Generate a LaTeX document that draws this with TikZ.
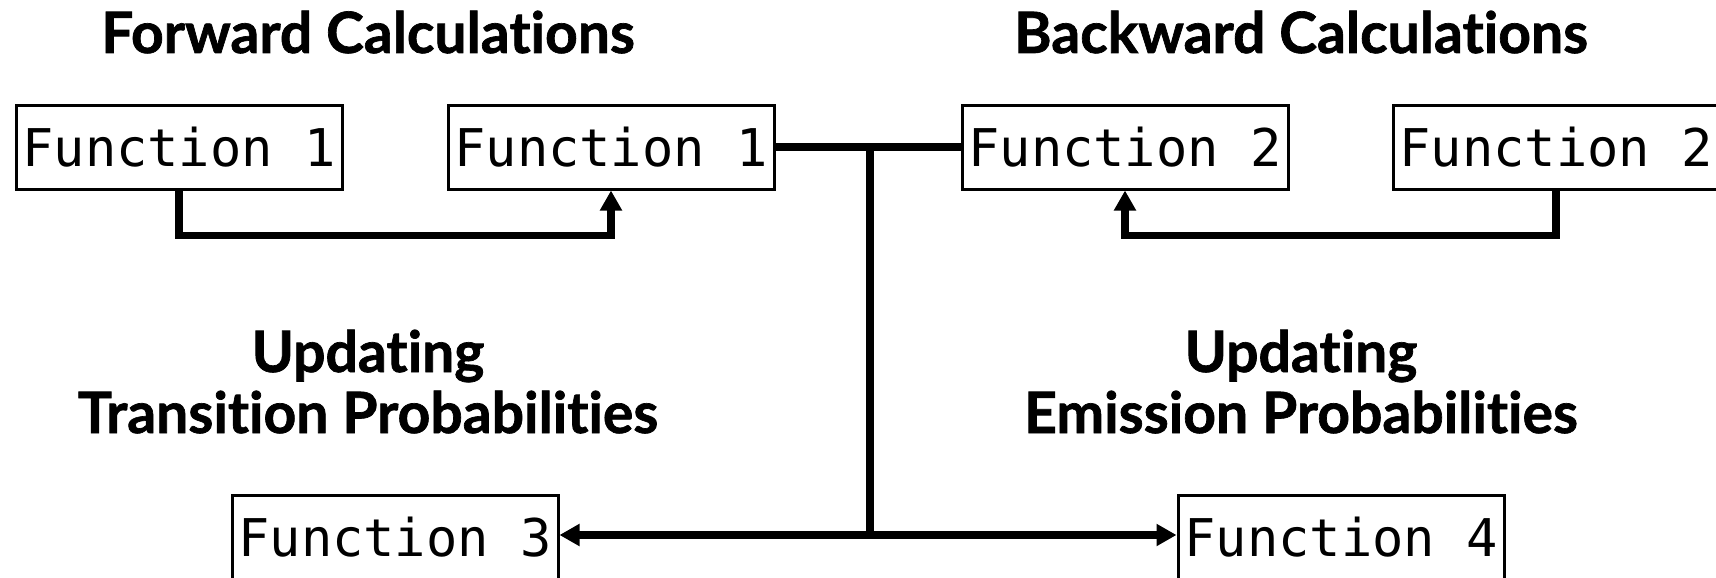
\documentclass[tikz,border=0pt]{standalone}
\usepackage{fontspec}
\setmainfont{Lato}[Ligatures={NoCommon}, BoldFeatures={FakeBold=1.2}]
\setmonofont{DejaVu Sans Mono}
\usetikzlibrary{arrows.meta}
\begin{document}
\begin{tikzpicture}[x=1pt,y=-1pt,
  fbox/.style={draw, line width=3pt, minimum width=326pt, minimum height=84pt, inner sep=0pt,
    font=\fontsize{52}{56}\selectfont\ttfamily},
  conn/.style={line width=7.5pt},
  tip/.style={-{Triangle[length=20pt,width=21pt]}},
  head/.style={anchor=base, font=\fontsize{57}{60}\selectfont\bfseries}
]
\useasboundingbox (0,0) rectangle (1716,578);
\node[head] (t1) at (368,53) {Forward Calculations};
\node[head] (t2) at (1301,53) {Backward Calculations};
\node[head] (u1) at (368,372) {Updating};
\node[head] (u2) at (368,433) {Transition Probabilities};
\node[head] (u3) at (1301,372) {Updating};
\node[head] (u4) at (1301,433) {Emission Probabilities};

\node[fbox] (f1a) at (179,147) {Function 1};
\node[fbox] (f1b) at (611,147) {Function 1};
\node[fbox] (f2a) at (1125,147) {Function 2};
\node[fbox] (f2b) at (1556,147) {Function 2};
\node[fbox] (f3) at (395,537) {Function 3};
\node[fbox] (f4) at (1341,537) {Function 4};

\draw[conn,tip] (f1a.south) -- ++(0,45) -| (f1b.south);
\draw[conn,tip] (f2b.south) -- ++(0,45) -| (f2a.south);
\draw[conn] (f1b.east) -- (f2a.west);
\coordinate (j1) at (870,147);
\coordinate (j2) at (870,535);
\draw[conn] (j1) -- (j2);
\draw[conn,tip] (j2) -- (f3.east |- j2);
\draw[conn,tip] (j2) -- (f4.west |- j2);
\end{tikzpicture}
\end{document}
